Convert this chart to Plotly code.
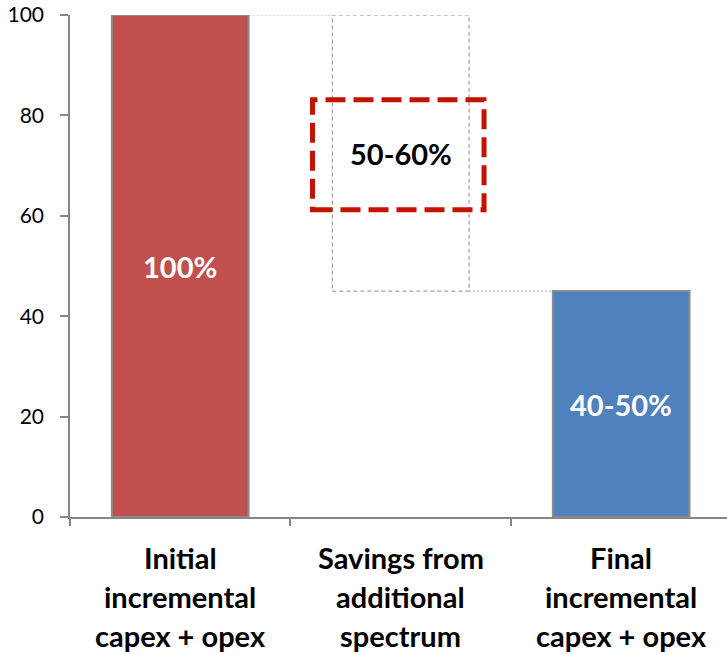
import plotly.graph_objects as go

# ---- data ----
categories = ["Initial incremental capex + opex",
              "Savings from additional spectrum",
              "Final incremental capex + opex"]
category_lines = [["Initial", "incremental", "capex + opex"],
                  ["Savings from", "additional", "spectrum"],
                  ["Final", "incremental", "capex + opex"]]
start_value = 100
savings_value = 55
final_value = 45
bar_labels = ["100%", "50-60%", "40-50%"]
y_ticks = [0, 20, 40, 60, 80, 100]

x_idx = [0, 1, 2]
BW = 0.62
FONT = "Lato"
GREY = "#8C8C8C"

fig = go.Figure()

# initial bar
fig.add_trace(go.Bar(
    x=[x_idx[0]], y=[start_value], width=BW,
    marker=dict(color="#C0504D", line=dict(color=GREY, width=2)),
    hoverinfo="skip", showlegend=False))
# final bar
fig.add_trace(go.Bar(
    x=[x_idx[2]], y=[final_value], width=BW,
    marker=dict(color="#4F81BD", line=dict(color=GREY, width=2)),
    hoverinfo="skip", showlegend=False))

saving_base = start_value - savings_value
shapes = []
# dashed outline of the savings step
shapes.append(dict(type="rect", xref="x", yref="y",
                   x0=x_idx[1] - BW / 2, x1=x_idx[1] + BW / 2,
                   y0=saving_base, y1=start_value,
                   line=dict(color="#8C8C8C", width=1, dash="4px,3px"),
                   fillcolor="rgba(0,0,0,0)", layer="above"))
# dotted connectors
shapes.append(dict(type="line", xref="x", yref="y",
                   x0=x_idx[0] + BW / 2, x1=x_idx[1] - BW / 2,
                   y0=start_value, y1=start_value,
                   line=dict(color="#A6A6A6", width=1, dash="2px,2px")))
shapes.append(dict(type="line", xref="x", yref="y",
                   x0=x_idx[1] + BW / 2, x1=x_idx[2] - BW / 2,
                   y0=final_value, y1=final_value,
                   line=dict(color="#A6A6A6", width=1, dash="2px,2px")))
# red highlight box around the savings label
mid = saving_base + savings_value / 2
shapes.append(dict(type="rect", xref="x", yref="y",
                   x0=x_idx[1] - 0.40, x1=x_idx[1] + 0.378,
                   y0=mid - 11.3, y1=mid + 10.6,
                   line=dict(color="#C41200", width=5, dash="20px,8px"),
                   fillcolor="rgba(0,0,0,0)", layer="above"))

annotations = []
annotations.append(dict(x=x_idx[0], y=start_value / 2, xref="x", yref="y",
                        text=bar_labels[0], showarrow=False,
                        font=dict(family=FONT, size=29, color="white", weight="bold")))
annotations.append(dict(x=x_idx[1], y=mid, xref="x", yref="y",
                        text=bar_labels[1], showarrow=False,
                        font=dict(family=FONT, size=29, color="black", weight="bold")))
annotations.append(dict(x=x_idx[2], y=final_value / 2, xref="x", yref="y",
                        text=bar_labels[2], showarrow=False,
                        font=dict(family=FONT, size=29, color="white", weight="bold")))

# category labels, one line each for Excel-like line spacing
for xi, lines in zip(x_idx, category_lines):
    for k, line in enumerate(lines):
        annotations.append(dict(x=xi, y=0, xref="x", yref="paper",
                                yanchor="middle", yshift=-40 - 39 * k,
                                text=line, showarrow=False,
                                font=dict(family=FONT, size=29, color="black", weight="bold")))

fig.update_layout(
    width=727, height=655,
    margin=dict(l=70, r=0, t=15, b=138),
    paper_bgcolor="white", plot_bgcolor="white",
    barmode="overlay",
    shapes=shapes, annotations=annotations,
    font=dict(family=FONT, color="black"),
    xaxis=dict(type="linear", range=[-0.5, 2.48], tickvals=[-0.5, 0.5, 1.5, 2.5],
               showticklabels=False, ticks="outside", ticklen=7, tickwidth=1.5,
               tickcolor="#868686", showline=True, linecolor="#868686",
               linewidth=1.5, showgrid=False, zeroline=False, fixedrange=True),
    yaxis=dict(range=[0, 100], tickvals=y_ticks, ticks="outside", ticklen=8,
               tickwidth=1.5, tickcolor="#868686", showline=True,
               linecolor="#868686", linewidth=1.5, showgrid=False,
               zeroline=False, ticklabelstandoff=12,
               tickfont=dict(family=FONT, size=21, color="black")),
)

fig.write_html("out.html")
